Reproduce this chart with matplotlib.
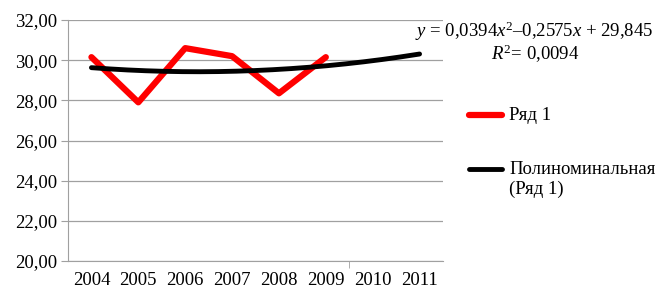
import numpy as np
import matplotlib
matplotlib.use("Agg")
import matplotlib.pyplot as plt

plt.rcParams['font.family'] = ['Liberation Serif', 'DejaVu Serif']
plt.rcParams['mathtext.fontset'] = 'custom'
plt.rcParams['mathtext.rm'] = 'Liberation Serif'
plt.rcParams['mathtext.it'] = 'Liberation Serif:italic'

years = ['2004', '2005', '2006', '2007', '2008', '2009', '2010', '2011']
values = [30.15, 27.9, 30.6, 30.2, 28.35, 30.15]
coef = [0.0394, -0.2575, 29.845]  # polynomial trend, as printed on chart
eq_text = '$y$ = 0,0394$x^2$\u20130,2575$x$ + 29,845'
r2_text = '$R^2$= 0,0094'

fs = 13.5

fig = plt.figure(figsize=(6.57, 3.05), dpi=100)
ax = fig.add_axes([68/657, 1-261/305, (443-68)/657, (261-20)/305])

xs = np.arange(1, len(values)+1) - 0.5
ax.plot(xs, values, color='#ff0000', lw=4.5, solid_capstyle='round', zorder=3)

xt = np.linspace(1, len(years), 200)
yt = np.polyval(coef, xt)
ax.plot(xt - 0.5, yt, color='black', lw=3.5, solid_capstyle='round', zorder=4)

ax.set_xlim(0, len(years))
ax.set_ylim(20, 32)
ax.set_yticks(np.arange(20, 33, 2))
ax.set_yticklabels([('%.2f' % v).replace('.', ',') for v in np.arange(20, 33, 2)])
ax.set_xticks(np.arange(len(years)) + 0.5)
ax.set_xticklabels(years)
ax.set_xticks([len(values)], minor=True)
ax.tick_params(axis='x', which='major', length=0, labelsize=fs, pad=8)
ax.tick_params(axis='x', which='minor', length=5, color='#a0a0a0', direction='out')
ax.tick_params(axis='y', length=5, color='#a0a0a0', labelsize=fs, pad=3)
ax.grid(axis='y', color='#a0a0a0', lw=0.9)
ax.set_axisbelow(True)
for s in ['top', 'right']:
    ax.spines[s].set_visible(False)
for s in ['left', 'bottom']:
    ax.spines[s].set_color('#a0a0a0')

fig.text(534/657, 1-31/305, eq_text, ha='center', va='center', fontsize=fs)
fig.text(535/657, 1-54/305, r2_text, ha='center', va='center', fontsize=fs)

# legend
fig.lines.append(plt.Line2D([469/657, 502/657], [1-115/305, 1-115/305], color='#ff0000', lw=4.5,
                            solid_capstyle='round', transform=fig.transFigure))
fig.text(509/657, 1-115/305, 'Ряд 1', ha='left', va='center', fontsize=fs)
fig.lines.append(plt.Line2D([469/657, 502/657], [1-169/305, 1-169/305], color='black', lw=3.5,
                            solid_capstyle='round', transform=fig.transFigure))
fig.text(509/657, 1-169/305, 'Полиноминальная', ha='left', va='center', fontsize=fs)
fig.text(509/657, 1-189/305, '(Ряд 1)', ha='left', va='center', fontsize=fs)

fig.savefig('out.png', dpi=100)
